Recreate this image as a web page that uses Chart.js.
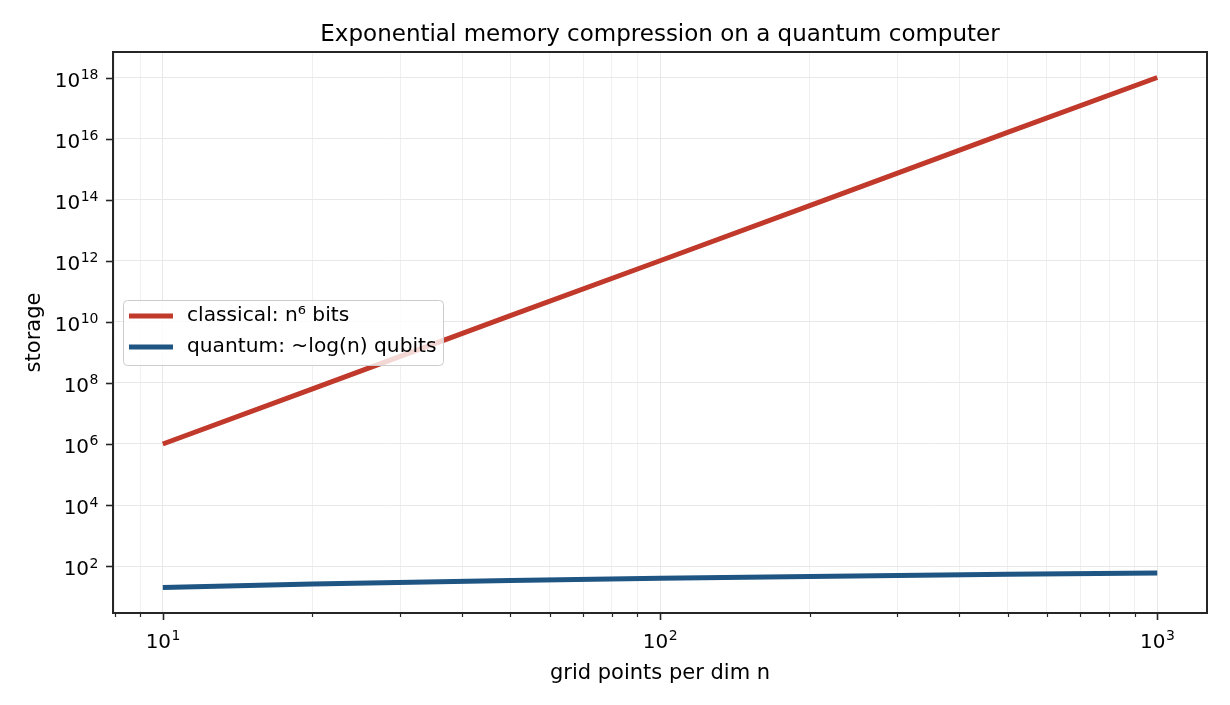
<!DOCTYPE html>
<html>
<head>
<meta charset="utf-8">
<title>Exponential memory compression</title>
<script src="https://cdn.jsdelivr.net/npm/chart.js@4.4.1/dist/chart.umd.min.js"></script>
<style>
    html, body { margin: 0; padding: 0; background: #fff; }
    #wrap { width: 1230px; height: 705px; }
</style>
</head>
<body>
<div id="wrap"><canvas id="chart" width="1230" height="705"></canvas></div>
<script>
// DATA
const gridPoints = [10, 20, 50, 100, 200, 500, 1000];
const classicalBits = [1e6, 6.4e7, 1.6e10, 1e12, 6.4e13, 1.6e16, 1e18];
const quantumQubits = [20, 26, 34, 40, 46, 54, 60];

// TICKS
const xMajorTicks = [10, 100, 1000];
const xTickExp = ["1", "2", "3"];
const xMinorTicks = [8, 9, 20, 30, 40, 50, 60, 70, 80, 90, 200, 300, 400, 500, 600, 700, 800, 900];
const yTicks = [1e2, 1e4, 1e6, 1e8, 1e10, 1e12, 1e14, 1e16, 1e18];
const yTickExp = ["2", "4", "6", "8", "10", "12", "14", "16", "18"];

const titleText = "Exponential memory compression on a quantum computer";
const xTitle = "grid points per dim n";
const yTitle = "storage";

const RED = "#c0392b";
const BLUE = "#1f5582";
const FONT = "'DejaVu Sans', sans-serif";

function points(xs, ys) {
    return xs.map((x, i) => ({ x: x, y: ys[i] }));
}

// draws "10" with a raised exponent
function drawPow(ctx, exp, x, y, align) {
    ctx.font = "20px " + FONT;
    const wb = ctx.measureText("10").width;
    ctx.font = "14px " + FONT;
    const we = ctx.measureText(exp).width;
    let start = x;
    if (align === "right") start = x - wb - we;
    if (align === "center") start = x - (wb + we) / 2;
    ctx.textAlign = "left";
    ctx.textBaseline = "alphabetic";
    ctx.font = "20px " + FONT;
    ctx.fillText("10", start, y);
    ctx.font = "14px " + FONT;
    ctx.fillText(exp, start + wb + 0.5, y - 7.5);
}

const decor = {
    id: "decor",
    afterDraw(chart) {
        const ctx = chart.ctx;
        const a = chart.chartArea;
        const xs = chart.scales.x;
        const ys = chart.scales.y;

        ctx.save();
        ctx.fillStyle = "#000";
        ctx.strokeStyle = "#262626";

        // tick marks
        ctx.lineWidth = 1.6;
        xMajorTicks.forEach(v => {
            const px = Math.round(xs.getPixelForValue(v)) + 0.5;
            ctx.beginPath(); ctx.moveTo(px, a.bottom); ctx.lineTo(px, a.bottom + 7); ctx.stroke();
        });
        ctx.lineWidth = 1.2;
        xMinorTicks.forEach(v => {
            const px = Math.round(xs.getPixelForValue(v)) + 0.5;
            ctx.beginPath(); ctx.moveTo(px, a.bottom); ctx.lineTo(px, a.bottom + 4); ctx.stroke();
        });
        ctx.lineWidth = 1.6;
        yTicks.forEach(v => {
            const py = Math.round(ys.getPixelForValue(v)) + 0.5;
            ctx.beginPath(); ctx.moveTo(a.left, py); ctx.lineTo(a.left - 7, py); ctx.stroke();
        });

        // spines
        ctx.lineWidth = 2;
        ctx.strokeRect(a.left, a.top, a.right - a.left, a.bottom - a.top);

        // tick labels
        xMajorTicks.forEach((v, i) => {
            drawPow(ctx, xTickExp[i], xs.getPixelForValue(v), a.bottom + 34.5, "center");
        });
        yTicks.forEach((v, i) => {
            drawPow(ctx, yTickExp[i], a.left - 15, ys.getPixelForValue(v) + 9, "right");
        });

        // titles
        ctx.textAlign = "center";
        ctx.textBaseline = "alphabetic";
        ctx.font = "23px " + FONT;
        ctx.fillText(titleText, (a.left + a.right) / 2, 41);
        ctx.font = "21px " + FONT;
        ctx.fillText(xTitle, (a.left + a.right) / 2, 679);
        ctx.save();
        ctx.translate(40, (a.top + a.bottom) / 2);
        ctx.rotate(-Math.PI / 2);
        ctx.fillText(yTitle, 0, 0);
        ctx.restore();

        // legend
        const lx = 123, ly = 300, lw = 320, lh = 65;
        ctx.beginPath();
        ctx.roundRect(lx + 0.5, ly + 0.5, lw, lh, 4);
        ctx.fillStyle = "rgba(255,255,255,0.8)";
        ctx.fill();
        ctx.strokeStyle = "#cccccc";
        ctx.lineWidth = 1;
        ctx.stroke();
        const rows = [316, 347];
        chart.data.datasets.forEach((ds, i) => {
            ctx.strokeStyle = ds.borderColor;
            ctx.lineWidth = 5;
            ctx.beginPath(); ctx.moveTo(129, rows[i]); ctx.lineTo(173, rows[i]); ctx.stroke();
            ctx.fillStyle = "#000";
            ctx.font = "20.2px " + FONT;
            ctx.textAlign = "left";
            ctx.textBaseline = "middle";
            ctx.fillText(ds.label, 187, rows[i]);
        });

        ctx.restore();
    }
};

new Chart(document.getElementById("chart"), {
    type: "line",
    data: {
        datasets: [
            {
                label: "classical: n\u2076 bits",
                data: points(gridPoints, classicalBits),
                borderColor: RED,
                borderWidth: 5,
                pointRadius: 0,
                tension: 0
            },
            {
                label: "quantum: ~log(n) qubits",
                data: points(gridPoints, quantumQubits),
                borderColor: BLUE,
                borderWidth: 5,
                pointRadius: 0,
                tension: 0
            }
        ]
    },
    options: {
        responsive: false,
        animation: false,
        layout: { padding: { left: 113, right: 23, top: 52, bottom: 92 } },
        plugins: {
            legend: { display: false },
            title: { display: false },
            tooltip: { enabled: false }
        },
        scales: {
            x: {
                type: "logarithmic",
                min: 7.94,
                max: 1259,
                afterBuildTicks: s => {
                    s.ticks = xMinorTicks.concat(xMajorTicks).sort((p, q) => p - q)
                        .map(v => ({ value: v, major: xMajorTicks.includes(v) }));
                },
                afterFit: s => { s.height = 0; },
                ticks: { display: false, autoSkip: false },
                border: { display: false },
                grid: {
                    drawTicks: false,
                    lineWidth: 1,
                    color: c => (c.tick && c.tick.major) ? "#e8e8e8" : "#f0f0f0"
                }
            },
            y: {
                type: "logarithmic",
                min: 2.92,
                max: 6.84e18,
                afterBuildTicks: s => {
                    s.ticks = yTicks.map(v => ({ value: v }));
                },
                afterFit: s => { s.width = 0; },
                ticks: { display: false, autoSkip: false },
                border: { display: false },
                grid: { drawTicks: false, lineWidth: 1, color: "#e8e8e8" }
            }
        }
    },
    plugins: [decor]
});
</script>
</body>
</html>
